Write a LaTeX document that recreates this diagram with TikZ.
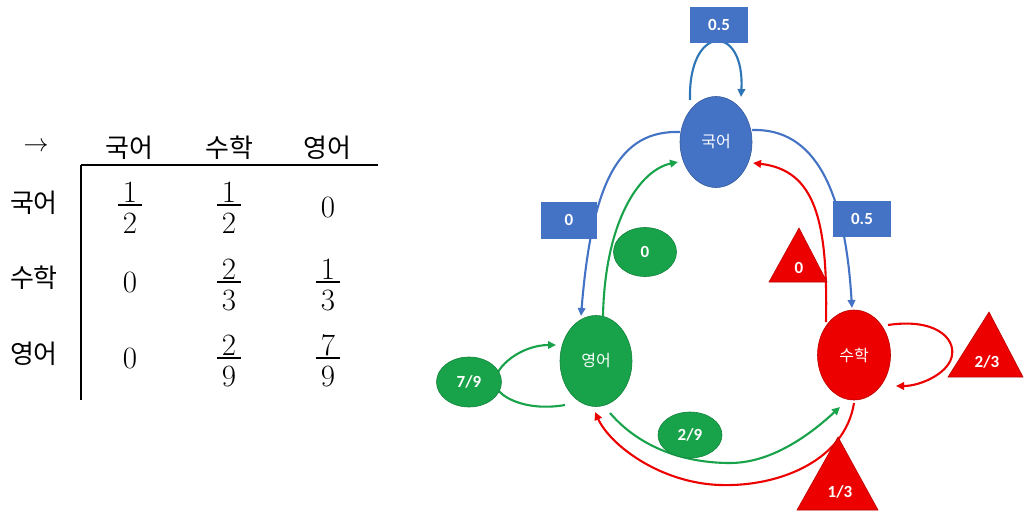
\documentclass[tikz,border=0pt]{standalone}
\usepackage{fontspec}
\newfontfamily\kr{Noto Sans CJK KR}
\newfontfamily\lab{Carlito}
\usetikzlibrary{shapes.geometric,arrows.meta}
\definecolor{cblue}{RGB}{68,114,196}
\definecolor{cloop}{RGB}{46,117,182}
\definecolor{cgreen}{RGB}{24,163,74}
\definecolor{cred}{RGB}{236,0,0}
\newcommand\myfrac[5]{%
  \node[dg,anchor=base] (#1n) at (#2,#3-3) {#4};
  \node[dg,anchor=base] (#1d) at (#2,#3+28) {#5};
  \draw[line width=1.3pt] (#2-12,#3) -- (#2+12,#3);}
\begin{document}
\begin{tikzpicture}[x=1pt,y=-1pt,
  kh/.style={inner sep=0pt,font=\kr\fontsize{26}{26}\selectfont},
  dg/.style={inner sep=0pt,font=\fontsize{31}{31}\selectfont},
  st/.style={ellipse,inner sep=0pt,text=white,line width=0.6pt,font=\kr\fontsize{16}{16}\selectfont},
  lb/.style={inner sep=0pt,text=white,font=\lab\bfseries\fontsize{17}{17}\selectfont},
  box/.style={lb,rectangle,fill=cblue,minimum width=58pt,minimum height=36pt},
  gel/.style={lb,ellipse,fill=cgreen,draw=cgreen!80!black,line width=0.6pt},
  tri/.style={fill=cred,draw=cred!80!black,line width=0.6pt},
  arr/.style={line width=2.1pt,-{Triangle[length=8pt,width=7.5pt]}}]
\fill[white] (0,0) rectangle (1025,517);
\useasboundingbox (0,0) rectangle (1025,517);

% ---------- table ----------
\node[dg] (arrow) at (36,147) {$\rightarrow$};
\node[kh] (h1) at (129,148) {국어};
\node[kh] (h2) at (229,148) {수학};
\node[kh] (h3) at (327,148) {영어};
\node[kh] (r1) at (34,203) {국어};
\node[kh] (r2) at (34,278) {수학};
\node[kh] (r3) at (34,354) {영어};
\draw[line width=1.3pt] (81,165) -- (378,165);
\draw[line width=1.3pt] (81,165) -- (81,400);
\myfrac{a11}{130}{205}{1}{2}
\myfrac{a12}{229}{205}{1}{2}
\node[dg,anchor=base] (a13) at (328,217) {0};
\node[dg,anchor=base] (a21) at (130,292) {0};
\myfrac{a22}{229}{282}{2}{3}
\myfrac{a23}{328}{282}{1}{3}
\node[dg,anchor=base] (a31) at (130,368) {0};
\myfrac{a32}{229}{358}{2}{9}
\myfrac{a33}{328}{358}{7}{9}

% ---------- main nodes ----------
\node[st,fill=cblue,draw=cblue!80!black,minimum width=72pt,minimum height=91pt] (gug) at (716,142) {국어};
\node[st,fill=cgreen,draw=cgreen!80!black,minimum width=72pt,minimum height=91pt] (yeong) at (596,361) {영어};
\node[st,fill=cred,draw=cred!80!black,minimum width=73pt,minimum height=90pt] (suhak) at (854,355) {수학};

% ---------- connectors ----------
\draw[arr,cloop] ([shift={(-26,-42)}]gug.center) .. controls (688,23) and (745,23) .. ([shift={(25,-45)}]gug.center);
\draw[arr,cblue] ([shift={(-36,-10)}]gug.center) .. controls (620,130) and (592,180) .. ([shift={(-15,-45)}]yeong.center);
\draw[arr,cblue] ([shift={(36,-12)}]gug.center) .. controls (815,128) and (845,190) .. ([shift={(-2,-47)}]suhak.center);
\draw[arr,cgreen] ([shift={(7,-45)}]yeong.center) .. controls (605,220) and (640,170) .. ([shift={(-38,20)}]gug.center);
\draw[arr,cred] ([shift={(-28,-33)}]suhak.center) .. controls (828,220) and (815,170) .. ([shift={(37,21)}]gug.center);
\draw[arr,cgreen] ([shift={(-31,44)}]yeong.center) .. controls (525,412) and (495,396) .. (495,382) .. controls (495,366) and (522,345) .. ([shift={(-40,-16)}]yeong.center);
\draw[arr,cred] ([shift={(34,-30)}]suhak.center) .. controls (935,318) and (955,338) .. (952,355) .. controls (950,372) and (922,386) .. ([shift={(42,31)}]suhak.center);
\draw[arr,cgreen] ([shift={(14,52)}]yeong.center) .. controls (640,448) and (685,463) .. (730,463) .. controls (775,463) and (815,430) .. ([shift={(-14,52)}]suhak.center);
\draw[arr,cred] ([shift={(0,48)}]suhak.center) .. controls (845,460) and (780,487) .. (720,485) .. controls (660,483) and (610,445) .. ([shift={(-1,51)}]yeong.center);

% ---------- labels ----------
\node[box] (b05t) at (719,25) {0.5};
\node[box,minimum width=56pt,minimum height=37pt] (b0) at (569,220) {0};
\node[box] (b05r) at (862,219) {0.5};
\node[gel,minimum width=63pt,minimum height=49pt] (g0) at (645,252) {0};
\node[gel,minimum width=65pt,minimum height=50pt] (g79) at (469,382) {7/9};
\node[gel,minimum width=64pt,minimum height=46pt] (g29) at (690,435) {2/9};
\path[tri] (799,228) -- (769,282) -- (827,282) -- cycle;
\node[lb] (t0) at (799,268) {0};
\path[tri] (989,312) -- (948,377) -- (1023,377) -- cycle;
\node[lb] (t23) at (987,362) {2/3};
\path[tri] (838,437) -- (797,510) -- (878,510) -- cycle;
\node[lb] (t13) at (840,492) {1/3};
\end{tikzpicture}
\end{document}
